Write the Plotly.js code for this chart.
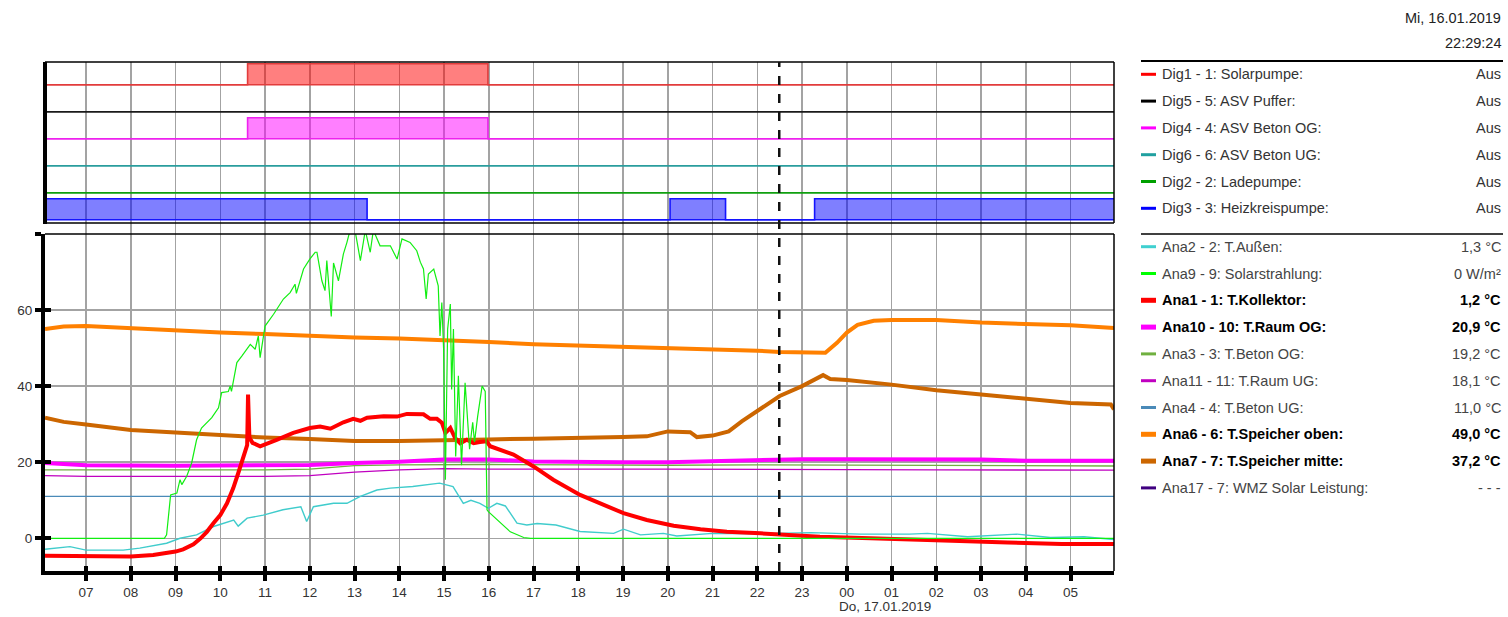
<!DOCTYPE html>
<html><head><meta charset="utf-8">
<script src="https://cdn.plot.ly/plotly-3.0.1.min.js"></script>
<style>html,body{margin:0;padding:0;background:#fff;} #chart{width:1508px;height:617px;}</style>
</head><body><div id="chart"></div>
<script>
// ---------------- DATA (hours counted from 16.01.2019 00:00) ----------------
const xStart = 6.083, xEnd = 29.97;
const cursorTime = 22.49;
const tickHours = [7,8,9,10,11,12,13,14,15,16,17,18,19,20,21,22,23,24,25,26,27,28,29];
const tickLabels = ['07','08','09','10','11','12','13','14','15','16','17','18','19','20','21','22','23','00','01','02','03','04','05'];
const yTickVals = [0,20,40,60,80];
const yTickText = ['0','20','40','60',''];

// Digital channels (state 0 = Aus, 1 = Ein)
const dig1T = [6.083, 10.61, 15.98, 29.97]; const dig1S = [0,1,0,0];   // Solarpumpe
const dig5T = [6.083, 29.97];               const dig5S = [0,0];       // ASV Puffer
const dig4T = [6.083, 10.61, 15.98, 29.97]; const dig4S = [0,1,0,0];   // ASV Beton OG
const dig6T = [6.083, 29.97];               const dig6S = [0,0];       // ASV Beton UG
const dig2T = [6.083, 29.97];               const dig2S = [0,0];       // Ladepumpe
const dig3T = [6.083, 13.28, 20.05, 21.29, 23.28, 29.97]; const dig3S = [1,0,1,0,1,1]; // Heizkreispumpe

// Analog channels
const ana4T = [6.083, 12, 18, 24, 29.97];
const ana4V = [11.0, 11.0, 11.0, 11.0, 11.0];
const ana11T = [6.083, 7, 11, 12, 13, 14, 15, 16, 20, 22, 26, 29.97];
const ana11V = [16.5, 16.3, 16.3, 16.5, 17.4, 18.0, 18.3, 18.2, 18.2, 18.1, 18.0, 17.9];
const ana3T = [6.083, 8, 10, 11, 12, 13, 14, 16, 18, 20, 22, 24, 26, 28, 29.97];
const ana3V = [18.0, 18.0, 18.0, 18.0, 18.2, 19.1, 19.3, 19.4, 19.3, 19.2, 19.3, 19.2, 19.1, 19.0, 19.0];
const ana2T = [6.083, 6.64, 7.0, 7.83, 8.2, 8.8, 9.1, 9.47, 9.85, 10.3, 10.4, 10.6, 10.96, 11.4, 11.8, 11.93, 12.08, 12.53, 12.83, 13.13, 13.5, 13.8, 14.3, 14.9, 15.2, 15.43, 15.6, 15.8, 15.99, 16.18, 16.37, 16.63, 16.85, 17.08, 17.5, 18.04, 18.79, 19.01, 19.39, 19.9, 20.2, 21.0, 22.0, 22.9, 23.2, 24.3, 25.4, 25.8, 26.7, 27.8, 28.55, 29.3, 29.97];
const ana2V = [-2.9, -2.2, -3.1, -3.1, -2.6, -1.3, 0.0, 0.9, 3.1, 4.8, 3.2, 5.3, 6.1, 7.5, 8.3, 4.4, 8.3, 9.2, 9.2, 11.0, 12.7, 13.2, 13.6, 14.5, 13.6, 9.2, 10.0, 9.2, 7.9, 9.2, 8.5, 4.0, 3.5, 3.9, 3.5, 1.8, 1.3, 2.4, 0.9, 1.3, 0.6, 1.3, 1.2, 1.5, 1.5, 1.1, 1.1, 1.3, 0.4, 1.1, 0.2, 0.4, -0.3];
const ana9T = [6.083, 8.75, 8.8, 8.89, 9.03, 9.1, 9.14, 9.25, 9.36, 9.47, 9.58, 9.81, 9.96, 10.03, 10.18, 10.22, 10.25, 10.37, 10.48, 10.67, 10.78, 10.85, 10.89, 11.0, 11.19, 11.41, 11.56, 11.67, 11.7, 11.86, 12.0, 12.12, 12.16, 12.27, 12.34, 12.38, 12.48, 12.53, 12.64, 12.75, 12.83, 12.9, 13.01, 13.13, 13.24, 13.35, 13.42, 13.57, 13.8, 13.95, 14.06, 14.24, 14.39, 14.47, 14.54, 14.6, 14.65, 14.77, 14.87, 14.91, 14.95, 14.99, 15.03, 15.08, 15.14, 15.17, 15.21, 15.26, 15.32, 15.39, 15.47, 15.57, 15.64, 15.68, 15.75, 15.85, 15.92, 15.96, 15.99, 16.26, 16.48, 16.78, 16.93, 29.97];
const ana9V = [0, 0, 0.9, 11.4, 11.9, 15.4, 14.1, 16.3, 19.8, 25.9, 29.0, 31.7, 34.3, 38.3, 38.6, 40.0, 38.6, 46.2, 47.9, 51.0, 49.7, 53.2, 47.5, 55.8, 58.9, 62.9, 64.6, 66.8, 64.4, 70.8, 73.4, 75.2, 75.2, 67.7, 65.1, 73.0, 58.3, 72.4, 67.7, 74.7, 77.8, 81, 81, 73.0, 81, 75.2, 81, 76.9, 76.9, 73.4, 78.7, 77.8, 75.6, 72.6, 70.8, 62.9, 69.5, 70.8, 66.4, 53.2, 62.0, 49.7, 15.4, 55.0, 61.6, 39.1, 55.0, 21.5, 42.7, 19.2, 40.9, 23.4, 30.5, 25.3, 32.0, 40.0, 38.6, 7.5, 7.0, 4.0, 1.7, 0.2, 0, 0];
const ana7T = [6.083, 6.5, 7, 8, 9, 10, 11, 12, 13, 14, 15, 16, 17, 18, 19, 19.53, 20.0, 20.5, 20.65, 21.0, 21.36, 21.66, 22.07, 22.5, 23, 23.47, 23.63, 24, 25, 26, 27, 28, 29, 29.9, 29.97];
const ana7V = [31.7, 30.6, 29.9, 28.5, 27.8, 27.1, 26.5, 26.1, 25.6, 25.6, 25.9, 26.0, 26.2, 26.3, 26.6, 26.8, 28.1, 27.9, 26.6, 27.0, 28.1, 30.8, 33.9, 37.4, 40.0, 42.9, 41.9, 41.6, 40.4, 38.9, 37.8, 36.8, 35.6, 35.2, 33.9];
const ana6T = [6.083, 6.5, 7, 8, 9, 10, 11, 12, 13, 14, 15, 16, 17, 18, 19, 20, 21, 22, 22.5, 23, 23.52, 23.78, 24.0, 24.24, 24.6, 25, 26, 27, 28, 29, 29.97];
const ana6V = [55.0, 55.7, 55.8, 55.2, 54.7, 54.1, 53.7, 53.2, 52.8, 52.5, 52.1, 51.6, 51.0, 50.7, 50.4, 50.0, 49.7, 49.3, 49.0, 48.8, 48.8, 51.4, 54.1, 56.1, 57.2, 57.4, 57.4, 56.7, 56.3, 56.0, 55.3];
const ana10T = [6.083, 7, 9, 11, 12, 13, 14, 15, 16, 17, 18, 19, 20, 21, 22, 23, 24, 25, 26, 27, 28, 29, 29.97];
const ana10V = [19.8, 19.2, 19.1, 19.1, 19.3, 19.8, 20.1, 20.7, 20.7, 20.2, 20.0, 20.0, 20.0, 20.3, 20.6, 20.8, 20.8, 20.8, 20.7, 20.7, 20.4, 20.4, 20.4];
const ana1T = [6.083, 7, 8, 8.5, 9, 9.17, 9.4, 9.56, 9.7, 9.85, 10, 10.15, 10.29, 10.4, 10.52, 10.6, 10.62, 10.65, 10.72, 10.89, 11.26, 11.63, 12.0, 12.23, 12.46, 12.57, 12.75, 12.97, 13.13, 13.28, 13.65, 13.95, 14.17, 14.54, 14.69, 14.84, 14.95, 15.03, 15.14, 15.25, 15.36, 15.51, 15.66, 15.8, 15.95, 16.03, 16.55, 17.0, 17.44, 18.04, 18.57, 19.01, 19.53, 20.13, 20.73, 21.32, 22.07, 22.74, 23.4, 24.53, 25.4, 26.7, 27.6, 28.8, 29.97];
const ana1V = [-4.6, -4.8, -4.8, -4.4, -3.5, -2.9, -1.6, 0.0, 1.7, 4.0, 6.1, 9.2, 13.2, 17.1, 21.5, 24.5, 37.8, 26.5, 25.1, 24.2, 25.9, 27.7, 29.0, 29.4, 28.8, 29.4, 30.5, 31.4, 30.9, 31.7, 32.1, 32.0, 32.7, 32.6, 31.4, 31.4, 30.4, 27.7, 29.0, 26.3, 25.0, 25.9, 25.0, 25.3, 25.5, 24.2, 22.0, 18.9, 15.4, 11.4, 8.8, 6.6, 4.8, 3.3, 2.4, 1.7, 1.3, 0.9, 0.4, 0.0, -0.4, -0.8, -1.1, -1.5, -1.5];

// Legend panel
const headerDate = 'Mi, 16.01.2019';
const headerTime = '22:29:24';
const dateLabel = 'Do, 17.01.2019';
const digNames = ['Dig1 - 1: Solarpumpe:', 'Dig5 - 5: ASV Puffer:', 'Dig4 - 4: ASV Beton OG:', 'Dig6 - 6: ASV Beton UG:', 'Dig2 - 2: Ladepumpe:', 'Dig3 - 3: Heizkreispumpe:'];
const digValues = ['Aus', 'Aus', 'Aus', 'Aus', 'Aus', 'Aus'];
const anaNames = ['Ana2 - 2: T.Außen:', 'Ana9 - 9: Solarstrahlung:', 'Ana1 - 1: T.Kollektor:', 'Ana10 - 10: T.Raum OG:', 'Ana3 - 3: T.Beton OG:', 'Ana11 - 11: T.Raum UG:', 'Ana4 - 4: T.Beton UG:', 'Ana6 - 6: T.Speicher oben:', 'Ana7 - 7: T.Speicher mitte:', 'Ana17 - 7: WMZ Solar Leistung:'];
const anaValues = ['1,3 °C', '0 W/m²', '1,2 °C', '20,9 °C', '19,2 °C', '18,1 °C', '11,0 °C', '49,0 °C', '37,2 °C', '- - -'];
const anaBold = [false, false, true, true, false, false, false, true, true, false];

// ---------------- STYLE / LAYOUT ----------------
const L = 45, R = 1114, T = 62, B = 571;
const px = x => (x - L) / (R - L);
const py = y => (B - y) / (B - T);
const FONT = 'Liberation Sans, Arial, sans-serif';
const LFS = 14.5;

const digColors = ['#e23c3c', '#1a1a1a', '#ee22ee', '#2a9d9d', '#10a010', '#1414ff'];
const digFills  = ['rgba(255,0,0,0.5)', 'rgba(0,0,0,0.5)', 'rgba(255,0,255,0.5)', 'rgba(0,150,150,0.5)', 'rgba(0,160,0,0.5)', 'rgba(0,0,255,0.5)'];
const digSwatch = ['#ff0000', '#000000', '#ff00ff', '#20a0a0', '#00a000', '#0000ff'];
const anaSwatch = ['#40d0d0', '#00ff00', '#ff0000', '#ff00ff', '#70b040', '#c000c0', '#4a8ab8', '#ff8000', '#cc6600', '#400080'];

const rowBase = [5.122, 4.122, 3.122, 2.122, 1.122, 0.122];
const onHeight = 0.775;
const digT = [dig1T, dig5T, dig4T, dig6T, dig2T, dig3T];
const digS = [dig1S, dig5S, dig4S, dig6S, dig2S, dig3S];

const traces = [];
digT.forEach((t, i) => {
  traces.push({x: [t[0], t[t.length-1]], y: [rowBase[i], rowBase[i]], xaxis: 'x', yaxis: 'y2', mode: 'lines',
    line: {color: digColors[i], width: 1.6}, hoverinfo: 'skip', showlegend: false});
  traces.push({x: t, y: digS[i].map(s => rowBase[i] + s * onHeight), xaxis: 'x', yaxis: 'y2', mode: 'lines',
    line: {color: digColors[i], width: 1.6, shape: 'hv'}, fill: 'tonexty', fillcolor: digFills[i],
    hoverinfo: 'skip', showlegend: false});
});

function ana(t, v, color, width) {
  traces.push({x: t, y: v, xaxis: 'x', yaxis: 'y', mode: 'lines', line: {color: color, width: width},
    hoverinfo: 'skip', showlegend: false});
}
ana(ana4T, ana4V, '#4a8ab8', 1.3);
ana(ana11T, ana11V, '#c000c0', 1.3);
ana(ana3T, ana3V, '#70b040', 1.3);
ana(ana2T, ana2V, '#40cccc', 1.4);
ana(ana7T, ana7V, '#cc6600', 4);
ana(ana6T, ana6V, '#ff8000', 4);
ana(ana10T, ana10V, '#ff00ff', 4);
ana(ana1T, ana1V, '#ff0000', 4);
ana(ana9T, ana9V, '#11ee11', 1.2);

// helper traces for crossing tick marks
traces.push({x: [], y: [], xaxis: 'x3', yaxis: 'y', mode: 'lines', hoverinfo: 'skip', showlegend: false});
traces.push({x: [], y: [], xaxis: 'x', yaxis: 'y3', mode: 'lines', hoverinfo: 'skip', showlegend: false});

const shapes = [];
const annotations = [];
const blk = '#000';
const splitY = py(234);
// upper panel frame
shapes.push({type: 'line', xref: 'paper', yref: 'paper', x0: 0, x1: 1, y0: 1, y1: 1, line: {color: blk, width: 1.5}});
shapes.push({type: 'line', xref: 'paper', yref: 'paper', x0: 0, x1: 1, y0: py(223), y1: py(223), line: {color: blk, width: 1.5}});
shapes.push({type: 'line', xref: 'paper', yref: 'paper', x0: 1, x1: 1, y0: py(223), y1: 1, line: {color: blk, width: 1.5}});
shapes.push({type: 'line', xref: 'paper', yref: 'paper', x0: 0, x1: 0, y0: py(224), y1: 1, line: {color: blk, width: 4}});
// lower panel frame (top + right)
shapes.push({type: 'line', xref: 'paper', yref: 'paper', x0: 0, x1: 1, y0: splitY, y1: splitY, line: {color: blk, width: 1.5}});
shapes.push({type: 'line', xref: 'paper', yref: 'paper', x0: 1, x1: 1, y0: 0, y1: splitY, line: {color: blk, width: 1.5}});
// cursor
shapes.push({type: 'line', xref: 'x', yref: 'paper', x0: cursorTime, x1: cursorTime, y0: 0, y1: 1, line: {color: '#111', width: 2.5, dash: 'dash'}});

// legend panel
const swX0 = px(1141), swX1 = px(1156), txX = px(1160), valX = px(1503);
shapes.push({type: 'line', xref: 'paper', yref: 'paper', x0: swX0, x1: valX, y0: py(61), y1: py(61), line: {color: blk, width: 2}});
shapes.push({type: 'line', xref: 'paper', yref: 'paper', x0: swX0, x1: valX, y0: py(234), y1: py(234), line: {color: blk, width: 1.3}});
annotations.push({xref: 'paper', yref: 'paper', x: valX, y: py(17.5), xanchor: 'right', yanchor: 'middle', showarrow: false, text: headerDate, font: {family: FONT, size: LFS, color: '#222'}});
annotations.push({xref: 'paper', yref: 'paper', x: valX, y: py(43), xanchor: 'right', yanchor: 'middle', showarrow: false, text: headerTime, font: {family: FONT, size: LFS, color: '#222'}});
digNames.forEach((n, i) => {
  const yy = py(74.3 + 26.8 * i);
  shapes.push({type: 'line', xref: 'paper', yref: 'paper', x0: swX0, x1: swX1, y0: yy, y1: yy, line: {color: digSwatch[i], width: 3}});
  annotations.push({xref: 'paper', yref: 'paper', x: txX, y: yy, xanchor: 'left', yanchor: 'middle', showarrow: false, text: n, font: {family: FONT, size: LFS, color: '#333'}});
  annotations.push({xref: 'paper', yref: 'paper', x: valX, y: yy, xanchor: 'right', yanchor: 'middle', showarrow: false, text: digValues[i], font: {family: FONT, size: LFS, color: '#333'}});
});
anaNames.forEach((n, i) => {
  const yy = py(246.7 + 26.8 * i);
  const b = anaBold[i];
  shapes.push({type: 'line', xref: 'paper', yref: 'paper', x0: swX0, x1: swX1, y0: yy, y1: yy, line: {color: anaSwatch[i], width: b ? 5 : 3}});
  annotations.push({xref: 'paper', yref: 'paper', x: txX, y: yy, xanchor: 'left', yanchor: 'middle', showarrow: false, text: b ? '<b>' + n + '</b>' : n, font: {family: FONT, size: LFS, color: b ? '#000' : '#444'}});
  annotations.push({xref: 'paper', yref: 'paper', x: valX, y: yy, xanchor: 'right', yanchor: 'middle', showarrow: false, text: b ? '<b>' + anaValues[i] + '</b>' : anaValues[i], font: {family: FONT, size: LFS, color: b ? '#000' : '#444'}});
});
annotations.push({xref: 'x', yref: 'paper', x: 24.86, y: py(606.5), xanchor: 'center', yanchor: 'middle', showarrow: false, text: dateLabel, font: {family: FONT, size: 13.5, color: '#333'}});

const gridCol = '#a3a3a3';
const layout = {
  width: 1508, height: 617,
  margin: {l: L, r: 1508 - R, t: T, b: 617 - B, pad: 0},
  paper_bgcolor: '#fff', plot_bgcolor: '#fff',
  font: {family: FONT, size: 13, color: '#333'},
  showlegend: false,
  xaxis: {range: [xStart, xEnd], anchor: 'y', tickmode: 'array', tickvals: tickHours, ticktext: tickLabels,
    showgrid: true, gridcolor: gridCol, gridwidth: 1.5, zeroline: false,
    showline: true, linecolor: '#000', linewidth: 3.5,
    ticks: 'outside', ticklen: 6, tickwidth: 4, tickcolor: '#000',
    tickfont: {family: FONT, size: 13.5, color: '#333'}, fixedrange: true},
  xaxis3: {range: [xStart, xEnd], overlaying: 'x', anchor: 'y', tickmode: 'array', tickvals: tickHours,
    showticklabels: false, showgrid: false, zeroline: false, showline: false,
    ticks: 'inside', ticklen: 5, tickwidth: 4, tickcolor: '#000', fixedrange: true},
  yaxis: {domain: [0, splitY], range: [-8.6, 80], anchor: 'x', tickmode: 'array', tickvals: yTickVals, ticktext: yTickText,
    showgrid: true, gridcolor: gridCol, gridwidth: 1.5, zeroline: false,
    showline: true, linecolor: '#000', linewidth: 4,
    ticks: 'outside', ticklen: 6, tickwidth: 4, tickcolor: '#000',
    tickfont: {family: FONT, size: 13.5, color: '#333'}, fixedrange: true},
  yaxis3: {range: [-8.6, 80], overlaying: 'y', anchor: 'x', side: 'left', tickmode: 'array', tickvals: yTickVals,
    showticklabels: false, showgrid: false, zeroline: false, showline: false,
    ticks: 'inside', ticklen: 6, tickwidth: 4, tickcolor: '#000', fixedrange: true},
  yaxis2: {domain: [splitY, 1], range: [(223 - 234) / 27, (223 - T) / 27], anchor: 'x',
    showgrid: false, zeroline: false, showline: false, showticklabels: false, ticks: '', fixedrange: true},
  shapes: shapes,
  annotations: annotations
};

Plotly.newPlot('chart', traces, layout, {staticPlot: true, displayModeBar: false});
</script>
</body></html>
